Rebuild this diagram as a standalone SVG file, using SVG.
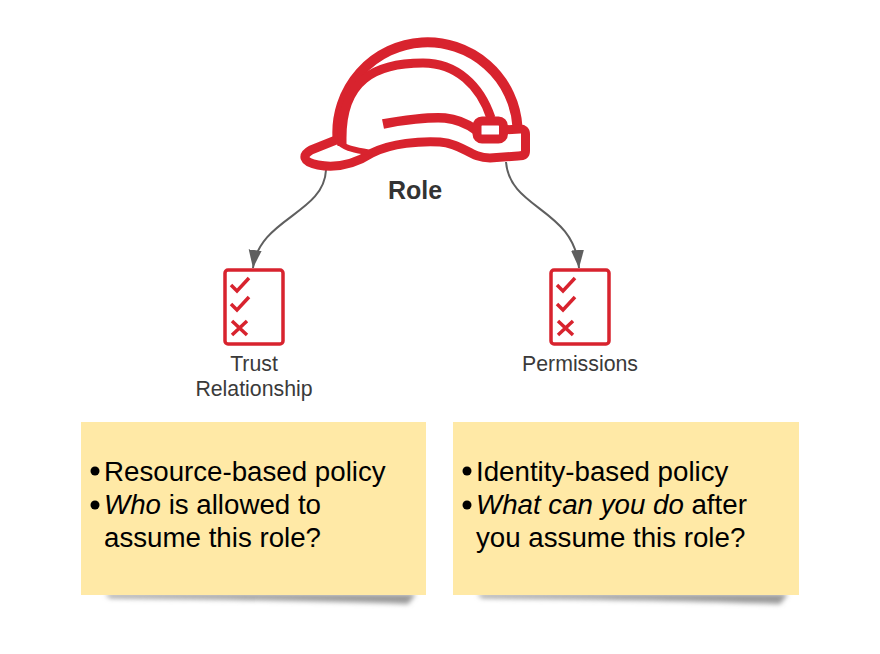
<svg xmlns="http://www.w3.org/2000/svg" width="880" height="654" viewBox="0 0 880 654">
<style>
.r{fill:none;stroke:#d8232e;stroke-linecap:butt;stroke-linejoin:round}
.c{fill:none;stroke:#d8232e;stroke-width:3.5}
.l{font-family:"Liberation Sans",Arial,sans-serif;font-size:21.3px;fill:#3a3a3a;text-anchor:middle}
.t{font-family:"Liberation Sans",Arial,sans-serif;font-size:27.7px;fill:#000}
.n{fill:#ffe9a6}
.sh{fill:#999}
.conn{fill:none;stroke:#5f5f5f;stroke-width:2}
</style>
<defs>
<marker id="a" markerUnits="userSpaceOnUse" markerWidth="20" markerHeight="14" refX="18" refY="7" orient="auto"><path d="M0 0.500L18 7L0 13.500Z" fill="#5f5f5f"/></marker>
<filter id="b" x="-5%" y="-100%" width="110%" height="300%"><feGaussianBlur stdDeviation="2.600"/></filter>
<g id="list"><rect x="-29" y="-37" width="58" height="74" rx="3" class="c"/><path class="c" d="M-23 -22L-17 -16L-5 -29M-23 -3L-17 3L-5 -10M-22 14L-7 28M-7 14L-22 28"/></g>
</defs>
<g id="connectors">
<path class="conn" d="M326 170C324 214 259 218 253 268" marker-end="url(#a)"/>
<path class="conn" d="M506 162C510 210 574 208 579 268" marker-end="url(#a)"/>
</g>
<g id="role">
<path class="r" stroke-width="10" d="M336.500 142L337.500 138A90 90 0 0 1 517.500 127"/>
<path class="r" stroke-width="9" d="M342 146L342 138C342 80 375 63 423 63C456 63 480 85 491 118"/>
<path class="r" stroke-width="9.500" d="M383 124C402 120 430 117 445 118C456 119 466 123 476 130"/>
<path class="r" stroke-width="9" d="M336 140L311 150C302 155 302 162 318 165C340 169 358 162 372 153C392 143 420 141 440 142C464 144 470 158 490 158L518 156Q525.500 156 525.500 151L525.500 134Q525.500 129 520 129L503 130"/>
<path class="r" stroke-width="6" d="M337 140C345 150 358 150 372 153"/>
<rect class="r" stroke-width="9" x="477" y="121" width="26.500" height="18" rx="5"/>
<text x="415" y="199" font-family="'Liberation Sans',Arial,sans-serif" font-size="25px" font-weight="700" fill="#333" text-anchor="middle">Role</text>
</g>
<g id="trust">
<use href="#list" x="254" y="307"/>
<text class="l" x="254" y="371">Trust</text>
<text class="l" x="254" y="396">Relationship</text>
</g>
<g id="permissions">
<use href="#list" x="580" y="307"/>
<text class="l" x="580" y="371">Permissions</text>
</g>
<g id="note-resource">
<path class="sh" filter="url(#b)" d="M105 594L416 594L408 604Q300 600 110 598Z"/>
<rect class="n" x="81" y="422" width="345" height="173"/>
<circle cx="95" cy="471" r="4.500"/>
<text class="t" x="104" y="481">Resource-based policy</text>
<circle cx="95" cy="505" r="4.500"/>
<text class="t" x="104" y="514"><tspan font-style="italic">Who</tspan> is allowed to</text>
<text class="t" x="104" y="547">assume this role?</text>
</g>
<g id="note-identity">
<path class="sh" filter="url(#b)" d="M477 594L788 594L780 604Q672 600 482 598Z"/>
<rect class="n" x="453" y="422" width="346" height="173"/>
<circle cx="467" cy="471" r="4.500"/>
<text class="t" x="476" y="481">Identity-based policy</text>
<circle cx="467" cy="505" r="4.500"/>
<text class="t" x="476" y="514"><tspan font-style="italic">What can you do</tspan> after</text>
<text class="t" x="476" y="547">you assume this role?</text>
</g>
</svg>
